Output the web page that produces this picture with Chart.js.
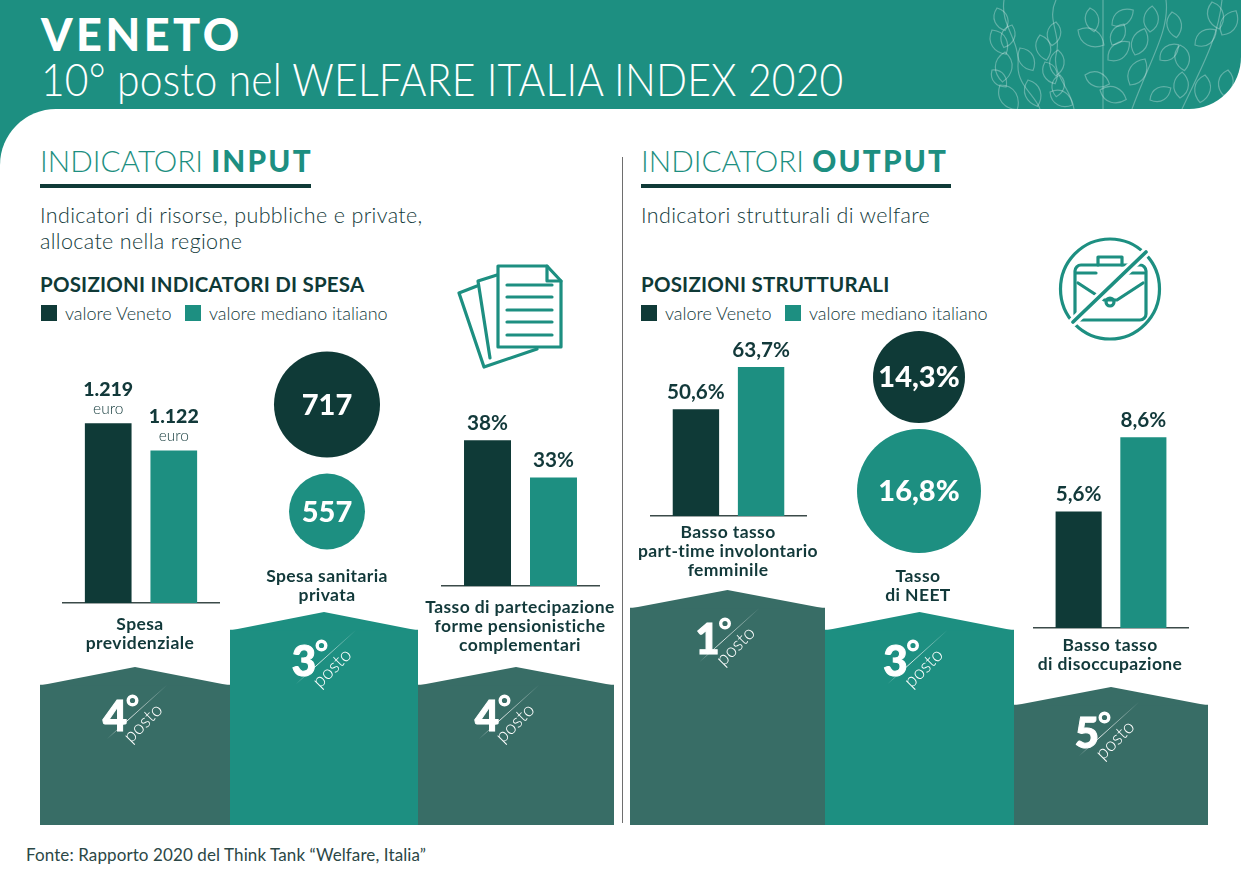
<!DOCTYPE html>
<html lang="it">
<head>
<meta charset="utf-8">
<title>Veneto - Welfare Italia Index 2020</title>
<script src="https://cdn.jsdelivr.net/npm/chart.js@4/dist/chart.umd.min.js"></script>
<style>
    html, body {margin: 0; padding: 0; background: #fff;}
    #page {position: relative; width: 1241px; height: 875px; overflow: hidden; background: #fff; font-family: Lato, sans-serif; color: #12393a;}
    #page > div, #page canvas, #page > svg {position: absolute;}
    .head {left: 0; top: 0; width: 1241px; height: 109px; background: #1d8f81; border-bottom-right-radius: 52px; overflow: hidden;}
    .head svg {position: absolute; left: 0; top: 0;}
    .corner {left: 0; top: 109px; width: 56px; height: 56px; background: #1d8f81;}
    .cornerCut {left: 0; top: 109px; width: 56px; height: 56px; background: #fff; border-top-left-radius: 56px;}
    .title1 {left: 41px; top: 7px; font-size: 45px; font-weight: 900; color: #fff; letter-spacing: 3.5px; line-height: 54px;}
    .title2 {left: 41px; top: 50px; font-size: 46px; font-weight: 300; color: #fff; line-height: 58px; white-space: nowrap; letter-spacing: .2px; transform: scaleX(.888); transform-origin: 0 0;}
    .section {top: 142px; font-size: 29.7px; font-weight: 300; color: #1d8f81; line-height: 38px; white-space: nowrap;}
    .section b {font-weight: 900; letter-spacing: 2.2px;}
    .rule {top: 184px; height: 4px; background: #0f3a37;}
    .sub {top: 203px; font-size: 21.5px; font-weight: 300; letter-spacing: .35px; line-height: 25.5px; white-space: nowrap;}
    .pos {top: 272px; font-size: 20.5px; font-weight: 700; letter-spacing: .2px; line-height: 24px; white-space: nowrap; color: #0f3a37;}
    .sw {top: 305px; width: 16px; height: 16px;}
    .lg {top: 303px; font-size: 18px; font-weight: 300; line-height: 20px; white-space: nowrap;}
    .cat {width: 240px; text-align: center; font-size: 17.5px; font-weight: 700; letter-spacing: .4px; line-height: 19px; color: #12393a;}
    .divider {left: 621.5px; top: 157px; width: 1.5px; height: 666px; background: #6e6e6e;}
    .fonte {left: 26px; top: 845px; font-size: 17px; font-weight: 400; letter-spacing: .1px; line-height: 20px; white-space: nowrap; color: #2b4746;}
</style>
</head>
<body>
<div id="page">
    <div class="head"><svg id="leaves" width="1241" height="109"></svg></div>
    <div class="corner"></div>
    <div class="cornerCut"></div>
    <div class="title1">VENETO</div>
    <div class="title2">10° posto nel WELFARE ITALIA INDEX 2020</div>

    <div class="section" style="left:40px">INDICATORI <b>INPUT</b></div>
    <div class="rule" style="left:40px;width:271px"></div>
    <div class="sub" style="left:40px">Indicatori di risorse, pubbliche e private,<br>allocate nella regione</div>
    <div class="pos" style="left:40px">POSIZIONI INDICATORI DI SPESA</div>
    <div class="sw" style="left:41px;background:#0f3a37"></div>
    <div class="lg" style="left:65px">valore Veneto</div>
    <div class="sw" style="left:185px;background:#1d8f81"></div>
    <div class="lg" style="left:209px">valore mediano italiano</div>

    <div class="divider"></div>

    <div class="section" style="left:641px">INDICATORI <b>OUTPUT</b></div>
    <div class="rule" style="left:641px;width:310px"></div>
    <div class="sub" style="left:641px">Indicatori strutturali di welfare</div>
    <div class="pos" style="left:641px">POSIZIONI STRUTTURALI</div>
    <div class="sw" style="left:641px;background:#0f3a37"></div>
    <div class="lg" style="left:665px">valore Veneto</div>
    <div class="sw" style="left:785px;background:#1d8f81"></div>
    <div class="lg" style="left:809px">valore mediano italiano</div>

    <svg style="left:0;top:0" width="1241" height="400" fill="none" stroke="#1d8f81" stroke-width="3.2" stroke-linejoin="round" stroke-linecap="round">
        <path d="M477 286 L459 293 L484 367 L537 349"/>
        <path d="M497 275 L478 281 L490 358"/>
        <path d="M498 266 H547 L561 281 V347 H498 Z"/>
        <path d="M547 266 V281 H561"/>
        <path d="M507 285 H552 M507 297 H552 M507 310 H552 M507 322 H552 M507 335 H552"/>
        <ellipse cx="1110" cy="289" rx="49.5" ry="50"/>
        <path d="M1098 265 V257 H1122 V265"/>
        <rect x="1075" y="265" width="71" height="55" rx="6"/>
        <path d="M1076 273 H1096 M1124 273 H1144"/>
        <path d="M1078 283 L1104 300 H1117 L1143 283"/>
        <circle cx="1110" cy="302" r="4"/>
        <path d="M1146 252 L1073 322" stroke="#fff" stroke-width="9"/>
        <path d="M1146 252 L1073 322" stroke-width="3.6"/>
    </svg>

    <div id="podi" style="left:0;top:0"></div>

    <canvas id="previdenziale" style="left:62px;top:370px" width="158" height="235"></canvas>
    <canvas id="sanitaria" style="left:227px;top:298px" width="200" height="320"></canvas>
    <canvas id="pensionistiche" style="left:441px;top:400px" width="159" height="188"></canvas>
    <canvas id="parttime" style="left:650px;top:330px" width="157" height="188"></canvas>
    <canvas id="neet" style="left:819px;top:258px" width="200" height="352"></canvas>
    <canvas id="disoccupazione" style="left:1033px;top:400px" width="156" height="230"></canvas>

    <div class="cat" style="left:20px;top:614px">Spesa<br>previdenziale</div>
    <div class="cat" style="left:207px;top:566px">Spesa sanitaria<br>privata</div>
    <div class="cat" style="left:400px;top:597px">Tasso di partecipazione<br>forme pensionistiche<br>complementari</div>
    <div class="cat" style="left:608px;top:522px">Basso tasso<br>part-time involontario<br>femminile</div>
    <div class="cat" style="left:798px;top:566px">Tasso<br>di NEET</div>
    <div class="cat" style="left:990px;top:635px">Basso tasso<br>di disoccupazione</div>

    <div class="fonte">Fonte: Rapporto 2020 del Think Tank “Welfare, Italia”</div>
</div>

<script>
const DARK = '#0f3a37';
const TEAL = '#1d8f81';
const PODIUM_DARK = '#386d66';

// values
const seriesNames = ['valore Veneto', 'valore mediano italiano'];

const previdenzialeValues = [1219, 1122];
const previdenzialeLabels = ['1.219', '1.122'];
const pensionisticheValues = [38, 33];
const pensionisticheLabels = ['38%', '33%'];
const parttimeValues = [50.6, 63.7];
const parttimeLabels = ['50,6%', '63,7%'];
const disoccupazioneValues = [5.6, 8.6];
const disoccupazioneLabels = ['5,6%', '8,6%'];

const sanitariaValues = [717, 557];
const sanitariaLabels = ['717', '557'];
const neetValues = [14.3, 16.8];
const neetLabels = ['14,3%', '16,8%'];

const podioCategories = ['Spesa previdenziale', 'Spesa sanitaria privata', 'Tasso di partecipazione',
    'Basso tasso part-time', 'Tasso di NEET', 'Basso tasso di disoccupazione'];
const podioRanks = [4, 3, 4, 1, 3, 5];

Chart.defaults.font.family = 'Lato, sans-serif';
Chart.defaults.animation = false;
Chart.defaults.responsive = false;
Chart.defaults.plugins.legend.display = false;
Chart.defaults.plugins.tooltip.enabled = false;

function createBars(id, category, values, labels, yMin, yMax, unit) {
    const barLabels = {
        id: 'barLabels',
        afterDatasetsDraw(chart) {
            const ctx = chart.ctx;
            ctx.save();
            ctx.textAlign = 'center';
            ctx.textBaseline = 'middle';
            ctx.fillStyle = '#12393a';
            chart.data.datasets.forEach((dataset, i) => {
                const bar = chart.getDatasetMeta(i).data[0];
                if (unit) {
                    ctx.font = '900 19.5px Lato, sans-serif';
                    ctx.fillText(labels[i], bar.x, bar.y - 34);
                    ctx.font = '300 15.5px Lato, sans-serif';
                    ctx.fillText(unit, bar.x, bar.y - 14);
                } else {
                    ctx.font = '700 20.7px Lato, sans-serif';
                    ctx.fillText(labels[i], bar.x, bar.y - 17);
                }
            });
            ctx.restore();
        }
    };

    return new Chart(document.getElementById(id), {
        type: 'bar',
        data: {
            labels: [category],
            datasets: values.map((value, i) => ({
                label: seriesNames[i],
                data: [value],
                backgroundColor: i === 0 ? DARK : TEAL
            }))
        },
        options: {
            categoryPercentage: 0.83,
            barPercentage: 0.712,
            layout: {padding: {bottom: 2}},
            scales: {
                x: {
                    ticks: {display: false},
                    grid: {display: false, drawTicks: false},
                    border: {color: '#3b4a49', width: 1.5}
                },
                y: {display: false, min: yMin, max: yMax}
            }
        },
        plugins: [barLabels]
    });
}

function createCircles(id, values, labels, radii, fontSize) {
    const circleLabels = {
        id: 'circleLabels',
        afterDatasetsDraw(chart) {
            const ctx = chart.ctx;
            ctx.save();
            ctx.textAlign = 'center';
            ctx.textBaseline = 'middle';
            ctx.fillStyle = '#fff';
            ctx.font = '900 ' + fontSize + 'px Lato, sans-serif';
            chart.data.datasets.forEach((dataset, i) => {
                const point = chart.getDatasetMeta(i).data[0];
                ctx.fillText(labels[i], point.x, point.y + 1);
            });
            ctx.restore();
        }
    };

    return new Chart(document.getElementById(id), {
        type: 'bubble',
        data: {
            datasets: values.map((value, i) => ({
                label: seriesNames[i],
                data: [{x: 'v', y: seriesNames[i], r: radii[i], value: value}],
                backgroundColor: i === 0 ? DARK : TEAL,
                borderWidth: 0,
                clip: false
            }))
        },
        options: {
            layout: {padding: 0},
            scales: {
                x: {type: 'category', labels: ['v'], display: false, offset: true},
                y: {type: 'category', labels: seriesNames, display: false, offset: true}
            }
        },
        plugins: [circleLabels]
    });
}

// block layout: canvas edges, eave height for each rank, nudge of the rank mark
const podiumEdges = [[40, 230], [230, 418], [418, 614], [630, 825], [825, 1014], [1014, 1208]];
const podiumColors = [PODIUM_DARK, TEAL, PODIUM_DARK, PODIUM_DARK, TEAL, PODIUM_DARK];
const podiumMarkShift = [[0, 0], [0, 0], [-9, 0], [0, 0], [-4, 0], [-4, -3]];
const eaveByRank = {1: 217, 3: 195, 4: 140, 5: 120};
const PODIUM_TOP = 560;
const PODIUM_HEIGHT = 265;
const ROOF = 18;

function createPodium(category, rank, edges, color, shift) {
    const canvas = document.createElement('canvas');
    canvas.width = edges[1] - edges[0];
    canvas.height = PODIUM_HEIGHT;
    canvas.style.left = edges[0] + 'px';
    canvas.style.top = PODIUM_TOP + 'px';
    document.getElementById('podi').appendChild(canvas);

    const podiumRoof = {
        id: 'podiumRoof',
        afterDatasetsDraw(chart) {
            const ctx = chart.ctx;
            const bar = chart.getDatasetMeta(0).data[0];
            const left = bar.x - bar.width / 2;
            const right = bar.x + bar.width / 2;
            ctx.save();
            ctx.fillStyle = color;
            ctx.beginPath();
            ctx.moveTo(left, bar.y + 0.5);
            ctx.lineTo(bar.x, bar.y - ROOF);
            ctx.lineTo(right, bar.y + 0.5);
            ctx.closePath();
            ctx.fill();

            const mx = bar.x + shift[0];
            const my = bar.y + shift[1];

            const grad = ctx.createLinearGradient(mx - 28, my + 54, mx + 32, my);
            grad.addColorStop(0, 'rgba(255,255,255,0)');
            grad.addColorStop(0.35, 'rgba(255,255,255,.85)');
            grad.addColorStop(1, 'rgba(255,255,255,0)');
            ctx.strokeStyle = grad;
            ctx.lineWidth = 1;
            ctx.beginPath();
            ctx.moveTo(mx - 28, my + 54);
            ctx.lineTo(mx + 32, my);
            ctx.stroke();

            ctx.fillStyle = '#fff';
            ctx.strokeStyle = '#fff';
            ctx.textBaseline = 'middle';
            ctx.textAlign = 'center';
            ctx.font = '900 42px Lato, sans-serif';
            ctx.lineWidth = 1;
            ctx.strokeText(String(rank), mx - 20, my + 32);
            ctx.fillText(String(rank), mx - 20, my + 32);

            // degree sign as a heavy ring, the font's one is too thin
            ctx.lineWidth = 3.4;
            ctx.beginPath();
            ctx.arc(mx - 2.5, my + 15.5, 4.3, 0, Math.PI * 2);
            ctx.stroke();

            ctx.translate(mx + 8, my + 38);
            ctx.rotate(-Math.PI / 4);
            ctx.font = '300 19px Lato, sans-serif';
            ctx.fillText('posto', 0, 0);
            ctx.restore();
        }
    };

    return new Chart(canvas, {
        type: 'bar',
        data: {
            labels: [category],
            datasets: [{
                data: [eaveByRank[rank]],
                backgroundColor: color
            }]
        },
        options: {
            categoryPercentage: 1,
            barPercentage: 1,
            layout: {padding: 0},
            scales: {
                x: {display: false},
                y: {display: false, min: 0, max: PODIUM_HEIGHT}
            }
        },
        plugins: [podiumRoof]
    });
}

podioRanks.forEach((rank, i) => {
    createPodium(podioCategories[i], rank, podiumEdges[i], podiumColors[i], podiumMarkShift[i]);
});

createBars('previdenziale', 'Spesa previdenziale', previdenzialeValues, previdenzialeLabels, 576, 1410, 'euro');
createBars('pensionistiche', 'Tasso di partecipazione', pensionisticheValues, pensionisticheLabels, 18.4, 43.4);
createBars('parttime', 'Basso tasso part-time', parttimeValues, parttimeLabels, 17.54, 75.2);
createBars('disoccupazione', 'Basso tasso di disoccupazione', disoccupazioneValues, disoccupazioneLabels, 0.9, 10.1);

createCircles('sanitaria', sanitariaValues, sanitariaLabels, [53, 38], 29);
createCircles('neet', neetValues, neetLabels, [46, 62], 29);

// header decoration: stems and leaf outlines
const stems = [
    'M1004 0 C1000 25 1020 40 1018 65 C1017 85 1035 95 1040 109',
    'M1056 0 C1046 20 1062 35 1056 55 C1052 75 1072 90 1074 109',
    'M1103 0 V109',
    'M1166 0 C1170 30 1150 60 1132 109',
    'M1222 0 C1218 40 1200 70 1182 109'
];
const leafSpots = [
    [997, 8, 70, 24], [992, 30, 60, 28], [1012, 25, 110, 24], [1005, 52, 95, 30], [1020, 48, 60, 26], [992, 70, 50, 22], [1000, 85, 55, 30],
    [1028, 80, 70, 28], [1040, 35, 75, 26], [1056, 22, 100, 24], [1045, 62, 65, 24], [1058, 50, 95, 26], [1060, 75, 100, 22], [1050, 92, 30, 26],
    [1078, 30, 30, 30], [1085, 75, 20, 26], [1090, 8, 80, 24], [1112, 25, -35, 26], [1108, 60, -40, 28], [1112, 45, -60, 24], [1100, 90, 20, 28],
    [1130, 85, -60, 30], [1135, 55, -70, 28], [1150, 32, -85, 26], [1160, 60, -40, 24], [1172, 12, 80, 26], [1180, 45, 80, 26], [1180, 98, -85, 26],
    [1195, 45, -35, 26], [1205, 75, 100, 28], [1222, 35, -60, 28], [1212, 2, 75, 28], [1228, 70, 100, 26], [1150, 100, -30, 24]
];

let leavesSvg = '<g fill="none" stroke="rgba(255,255,255,.3)" stroke-width="1.2">';
stems.forEach(d => {
    leavesSvg += '<path d="' + d + '"/>';
});
leafSpots.forEach(spot => {
    const s = spot[3];
    leavesSvg += '<path transform="translate(' + spot[0] + ' ' + spot[1] + ') rotate(' + spot[2] + ')" d="M0 0 C' + s * .3 + ' ' + (-s * .42) + ' ' + s * .75 + ' ' + (-s * .32) + ' ' + s + ' 0 C' + s * .75 + ' ' + s * .32 + ' ' + s * .3 + ' ' + s * .42 + ' 0 0Z"/>';
});
document.getElementById('leaves').innerHTML = leavesSvg + '</g>';
</script>
</body>
</html>
